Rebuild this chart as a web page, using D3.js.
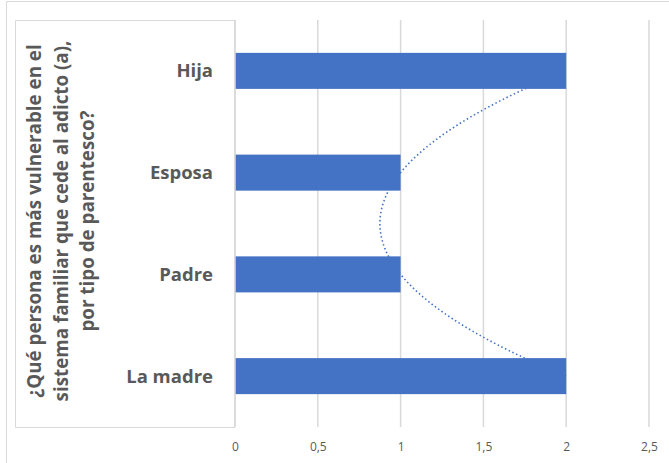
<!DOCTYPE html>
<html>
<head>
<meta charset="utf-8">
<script src="https://cdn.jsdelivr.net/npm/d3@7"></script>
<style>
body { margin:0; background:#fff; }
text { font-family: "Open Sans", "Noto Sans", sans-serif; }
</style>
</head>
<body>
<svg width="669" height="463"></svg>
<script>
// data (bottom to top in the chart)
var categories = ["La madre", "Padre", "Esposa", "Hija"]
var values = [2, 1, 1, 2]
var xTicks = [0, 0.5, 1, 1.5, 2, 2.5]
var titleLines = ["¿Qué persona es más vulnerable en el", "sistema familiar que cede al adicto (a),", "por tipo de parentesco?"]

var screen = {width:669, height:463}
var plot = {left:235, right:649, top:20, bottom:427}
var barColor = "#4472C4"
var textColor = "#595959"

var svg = d3.select("svg")

// outer chart border (only top and left are inside the picture)
svg.append("path")
    .attr("d", "M6.5,463 V1.5 H669")
    .attr("fill", "none")
    .attr("stroke", "#d9d9d9")
    .attr("stroke-width", 1)

// box round the axis title / labels
svg.append("path")
    .attr("d", "M" + plot.left + "," + (plot.top + 0.5) + " H15.5 V" + (plot.bottom + 0.5) + " H" + plot.left)
    .attr("fill", "none")
    .attr("stroke", "#d9d9d9")
    .attr("stroke-width", 1)

var xScale = d3.scaleLinear()
    .domain([0, 2.5])
    .range([plot.left, plot.right])

// Hija on top
var yScale = d3.scaleBand()
    .domain(categories.slice().reverse())
    .range([plot.top, plot.bottom])
    .paddingInner(0.646)
    .paddingOuter(0.323)

// gridlines
svg.append("g")
    .selectAll("line")
    .data(xTicks)
    .enter()
    .append("line")
    .attr("x1", function(d){return xScale(d)})
    .attr("x2", function(d){return xScale(d)})
    .attr("y1", plot.top)
    .attr("y2", plot.bottom)
    .attr("stroke", "#d9d9d9")
    .attr("stroke-width", 1.5)

// x axis tick labels
var fmt = function(d){return String(d).replace(".", ",")}
var xAxis = d3.axisBottom(xScale)
    .tickValues(xTicks)
    .tickFormat(fmt)
    .tickSize(0)
    .tickPadding(15)
var gx = svg.append("g")
    .attr("transform", "translate(0," + plot.bottom + ")")
    .call(xAxis)
gx.select(".domain").remove()
gx.selectAll("text")
    .attr("fill", textColor)
    .style("font-size", "12px")
    .style("font-family", "'Open Sans', sans-serif")

// polynomial (order 2) trendline, fitted to the values over category index 1..n
var xs = values.map(function(v, i){return i + 1})
var S = function(p, q){return d3.sum(xs, function(x, i){return Math.pow(x, p) * (q ? values[i] : 1)})}
var A = [[S(0), S(1), S(2)], [S(1), S(2), S(3)], [S(2), S(3), S(4)]]
var B = [S(0,1), S(1,1), S(2,1)]
var solve = function(A, B)
{
    var n = B.length
    var M = A.map(function(r, i){return r.concat([B[i]])})
    for (var c = 0; c < n; c++) {
        for (var r = c + 1; r < n; r++) {
            var f = M[r][c] / M[c][c]
            for (var k = c; k <= n; k++) M[r][k] -= f * M[c][k]
        }
    }
    var out = new Array(n)
    for (var r = n - 1; r >= 0; r--) {
        var s = M[r][n]
        for (var k = r + 1; k < n; k++) s -= M[r][k] * out[k]
        out[r] = s / M[r][r]
    }
    return out
}
var coef = solve(A, B)
var idxScale = d3.scaleLinear()
    .domain([1, categories.length])
    .range([yScale(categories[0]) + yScale.bandwidth()/2, yScale(categories[categories.length-1]) + yScale.bandwidth()/2])
var trendPts = d3.range(1, categories.length + 0.001, 0.05)
var lineGenerator = d3.line()
    .x(function(t){return xScale(coef[0] + coef[1]*t + coef[2]*t*t)})
    .y(function(t){return idxScale(t)})
    .curve(d3.curveMonotoneY)
svg.append("path")
    .datum(trendPts)
    .attr("d", lineGenerator)
    .attr("fill", "none")
    .attr("stroke", barColor)
    .attr("stroke-width", 1.6)
    .attr("stroke-dasharray", "1.5,2.6")

// bars
svg.append("g")
    .selectAll("rect")
    .data(values)
    .enter()
    .append("rect")
    .attr("x", xScale(0))
    .attr("y", function(d, i){return yScale(categories[i])})
    .attr("width", function(d){return xScale(d) - xScale(0)})
    .attr("height", yScale.bandwidth())
    .attr("fill", barColor)

// vertical axis line
svg.append("line")
    .attr("x1", plot.left).attr("x2", plot.left)
    .attr("y1", plot.top).attr("y2", plot.bottom)
    .attr("stroke", "#d9d9d9")
    .attr("stroke-width", 1.5)

// category labels
svg.append("g")
    .selectAll("text")
    .data(categories)
    .enter()
    .append("text")
    .attr("x", 213)
    .attr("y", function(d){return yScale(d) + yScale.bandwidth()/2})
    .attr("dy", "0.35em")
    .attr("text-anchor", "end")
    .attr("fill", textColor)
    .style("font-size", "18.5px")
    .style("font-weight", "bold")
    .text(function(d){return d})

// rotated axis title
var title = svg.append("text")
    .attr("transform", "translate(0,221) rotate(-90)")
    .attr("text-anchor", "middle")
    .attr("fill", textColor)
    .style("font-size", "18.8px")
    .style("font-weight", "bold")
title.selectAll("tspan")
    .data(titleLines)
    .enter()
    .append("tspan")
    .attr("x", 0)
    .attr("y", function(d, i){return 41 + i * 26.5})
    .text(function(d){return d})
</script>
</body>
</html>
